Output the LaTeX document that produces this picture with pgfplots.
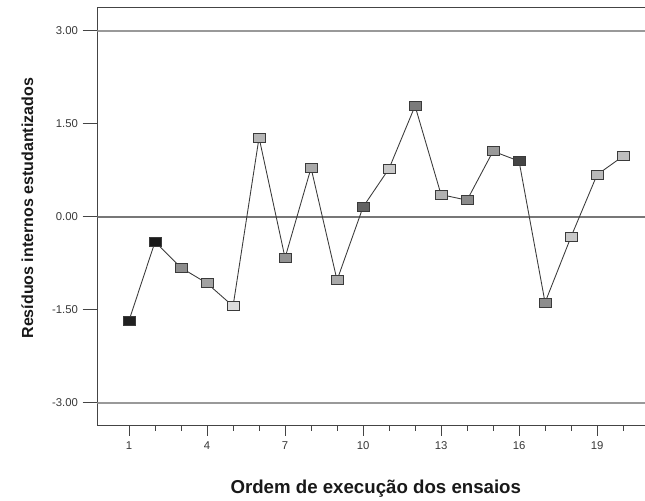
\documentclass[border=0pt]{standalone}
\usepackage{fontspec}
\setmainfont{Liberation Sans}
\usepackage{pgfplots}
\pgfplotsset{compat=1.18}
\usepackage{pgfplotstable}

\definecolor{axisgray}{HTML}{444444}
\definecolor{refgray}{HTML}{999999}
\definecolor{zerogray}{HTML}{777777}
\definecolor{trace}{HTML}{3A3A3A}

% run order, internally studentized residual, marker grey level
\pgfplotstableread{
run res g
1  -1.67 0.13
2  -0.40 0.10
3  -0.82 0.55
4  -1.07 0.63
5  -1.44 0.86
6   1.28 0.71
7  -0.66 0.57
8   0.79 0.66
9  -1.02 0.66
10  0.16 0.38
11  0.78 0.78
12  1.79 0.48
13  0.36 0.69
14  0.27 0.54
15  1.06 0.60
16  0.90 0.27
17 -1.38 0.55
18 -0.32 0.78
19  0.68 0.72
20  0.98 0.74
}\residuals

\begin{document}
\begin{tikzpicture}
\begin{axis}[
  name=ax,
  at={(0,0)}, anchor=south west,
  x=19.5pt, y=46.5pt,
  xmin=-0.22, xmax=21.2, ymin=-3.37, ymax=3.38,
  axis line style={axisgray, line width=0.9pt},
  xtick={1,4,...,19},
  minor xtick={2,3,5,6,8,9,11,12,14,15,17,18,20},
  ytick={-3,-1.5,0,1.5,3},
  xtick pos=bottom, ytick pos=left,
  tick align=outside,
  major tick length=7.5pt,
  xtick style={axisgray, line width=0.8pt},
  minor tick style={axisgray, line width=0.8pt, /pgfplots/minor tick length=3.8pt},
  ytick style={axisgray, line width=0.8pt, /pgfplots/major tick length=11pt},
  /pgf/number format/assume math mode=true,
  tick label style={font=\fontsize{8.5}{10}\selectfont, text=black!78},
  yticklabel style={/pgf/number format/fixed, /pgf/number format/fixed zerofill,
    /pgf/number format/precision=2, xshift=-3.5pt},
  xticklabel style={yshift=-1pt},
  xlabel={Ordem de execução dos ensaios},
  ylabel={Resíduos internos estudantizados},
  xlabel style={at={(rel axis cs:0.5,0)}, anchor=center, yshift=-47pt,
    font=\bfseries\fontsize{14}{16}\selectfont, text=black!90},
  ylabel style={at={(rel axis cs:0,0.52)}, anchor=center, yshift=52.5pt,
    font=\bfseries\fontsize{12}{14}\selectfont, text=black!90},
  colormap={greys}{gray(0cm)=(0); gray(1cm)=(1)},
  point meta min=0, point meta max=1,
]
  % reference lines at -3, 0 and +3
  \draw[refgray, line width=1.2pt] (axis cs:-0.22,3) -- (axis cs:21.2,3);
  \draw[refgray, line width=1.2pt] (axis cs:-0.22,-3) -- (axis cs:21.2,-3);
  \draw[zerogray, line width=1.2pt] (axis cs:-0.22,0) -- (axis cs:21.2,0);
  % shaded markers
  \addplot[only marks, scatter, point meta=explicit,
    mark=square*, mark size=3.4pt,
    mark options={xscale=1.32, line width=0.6pt},
    scatter/use mapped color={draw=trace, fill=mapped color}]
    table[x=run, y=res, meta=g] {\residuals};
  % connecting trace drawn over the markers
  \addplot[trace, line width=0.65pt, no marks] table[x=run, y=res] {\residuals};
\end{axis}
\pgfresetboundingbox
\path[use as bounding box] (-73pt,-55.6pt) rectangle (410.75pt,319.4pt);
\end{tikzpicture}
\end{document}
